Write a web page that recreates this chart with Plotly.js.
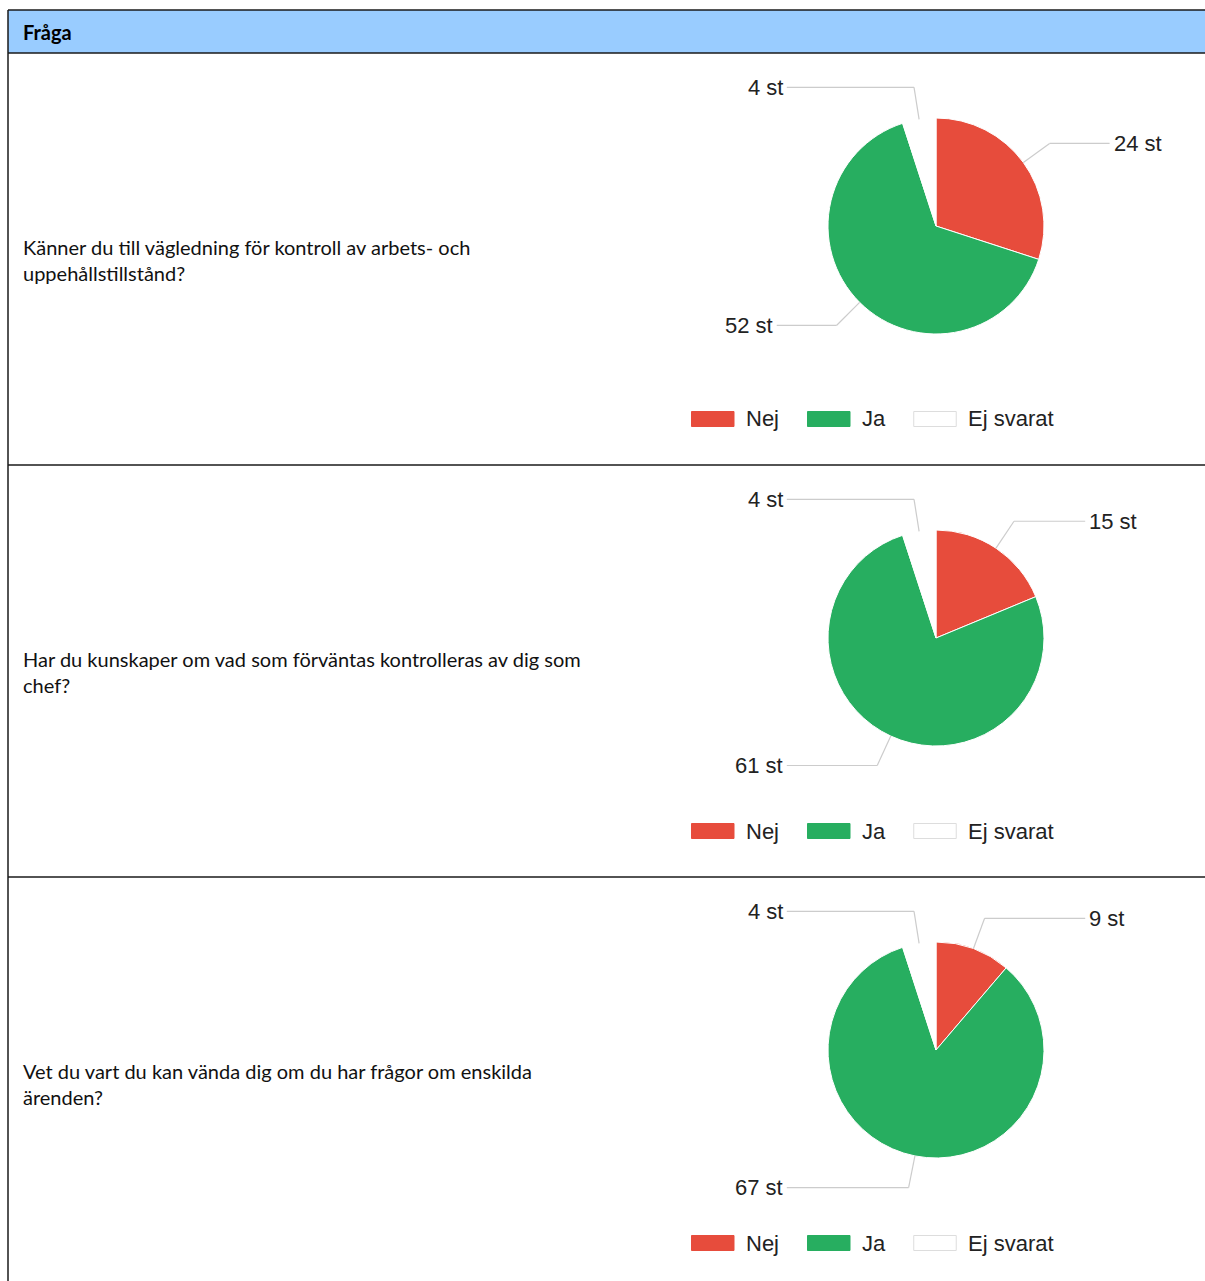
<!DOCTYPE html>
<html><head><meta charset="utf-8">
<script src="https://cdn.plot.ly/plotly-3.0.1.min.js"></script>
<style>html,body{margin:0;padding:0;background:#fff;} #chart{width:1205px;height:1281px;}</style>
</head><body><div id="chart"></div>
<script>
// ---- data ----
const categories = ['Nej', 'Ja', 'Ej svarat'];
const questions = [
  'Känner du till vägledning för kontroll av arbets- och\nuppehållstillstånd?',
  'Har du kunskaper om vad som förväntas kontrolleras av dig som\nchef?',
  'Vet du vart du kan vända dig om du har frågor om enskilda\närenden?'
];
const nejValues = [24, 15, 9];
const jaValues = [52, 61, 67];
const ejSvaratValues = [4, 4, 4];
const unitSuffix = ' st';
const headerLabel = 'Fråga';

// ---- styles / layout ----
const colors = ['#E74C3C', '#27AE60', '#FFFFFF'];
const legendBorder = ['#E74C3C', '#27AE60', '#DDDDDD'];
const W = 1205, H = 1281;
const tableLeft = 8, tableTop = 10, headerBottom = 53, rowH = 412;
const pieCX = 936, pieDY = 173, R = 108;
const borderColor = '#1a1a1a';
const labelFont = {family: 'Liberation Sans, Arial, sans-serif', size: 22, color: '#222222'};
const qFont = {family: 'Lato, sans-serif', size: 20, color: '#111111'};

const px = x => x / W;
const py = y => 1 - y / H;

const ctx = document.createElement('canvas').getContext('2d');
function textW(t, f) { ctx.font = f.size + 'px ' + f.family; return ctx.measureText(t).width; }

const traces = [], shapes = [], annotations = [];

// table frame
shapes.push({type: 'rect', xref: 'paper', yref: 'paper', x0: px(tableLeft), x1: px(W + 5), y0: py(headerBottom), y1: py(tableTop),
  fillcolor: '#99CCFF', line: {width: 0}, layer: 'below'});
const hLines = [tableTop, headerBottom, headerBottom + rowH, headerBottom + 2 * rowH];
hLines.forEach(y => shapes.push({type: 'line', xref: 'paper', yref: 'paper', x0: px(tableLeft), x1: px(W + 5), y0: py(y), y1: py(y), line: {color: borderColor, width: 1.5}}));
shapes.push({type: 'line', xref: 'paper', yref: 'paper', x0: px(tableLeft), x1: px(tableLeft), y0: py(tableTop), y1: py(H + 5), line: {color: borderColor, width: 1.5}});

annotations.push({xref: 'paper', yref: 'paper', x: px(21), y: py(32), xanchor: 'left', yanchor: 'middle', showarrow: false,
  text: '<b>' + headerLabel + '</b>', font: {family: qFont.family, size: 20, color: '#000'}});

questions.forEach((q, i) => {
  const top = headerBottom + i * rowH;
  const cy = top + pieDY;
  const vals = [nejValues[i], jaValues[i], ejSvaratValues[i]];
  const total = vals.reduce((a, b) => a + b, 0);

  // question text
  q.split('\n').forEach((line, k) => {
    annotations.push({xref: 'paper', yref: 'paper', x: px(21), y: py(top + 194 + k * 26), xanchor: 'left', yanchor: 'middle',
      showarrow: false, text: line, font: qFont});
  });

  traces.push({
    type: 'pie', values: vals, labels: categories, sort: false, direction: 'clockwise', rotation: 0,
    marker: {colors: colors, line: {color: '#FFFFFF', width: 1}},
    textinfo: 'none', hoverinfo: 'label+value', showlegend: false,
    domain: {x: [px(pieCX - R), px(pieCX + R)], y: [py(cy + R), py(cy - R)]}
  });

  // leader lines + labels
  let cum = 0;
  vals.forEach((v, k) => {
    const mid = (cum + v / 2) / total * 2 * Math.PI;
    cum += v;
    const s = Math.sin(mid), c = Math.cos(mid);
    const ex = pieCX + R * s, ey = cy - R * c;
    const bx = pieCX + 1.3 * R * s, by = cy - 1.3 * R * c;
    const right = s >= 0;
    const lx = right ? Math.max(pieCX + 1.4 * R, bx + 62) : Math.min(pieCX - 1.4 * R, bx - 62);
    const lineCol = '#CCCCCC';
    shapes.push({type: 'line', xref: 'paper', yref: 'paper', x0: px(ex), y0: py(ey), x1: px(bx), y1: py(by), line: {color: lineCol, width: 1.2}});
    shapes.push({type: 'line', xref: 'paper', yref: 'paper', x0: px(bx), y0: py(by), x1: px(lx + (right ? -2 : 2)), y1: py(by), line: {color: lineCol, width: 1.2}});
    annotations.push({xref: 'paper', yref: 'paper', x: px(lx), y: py(by), xanchor: right ? 'left' : 'right', yanchor: 'middle',
      showarrow: false, text: v + unitSuffix, font: labelFont});
  });

  // legend
  let x = pieCX - 245;
  const ly = top + 366;
  categories.forEach((cat, k) => {
    shapes.push({type: 'rect', xref: 'paper', yref: 'paper', x0: px(x + 0.5), x1: px(x + 43), y0: py(ly + 7.5), y1: py(ly - 7.5),
      fillcolor: colors[k], line: {color: legendBorder[k], width: 1}});
    annotations.push({xref: 'paper', yref: 'paper', x: px(x + 53), y: py(ly), xanchor: 'left', yanchor: 'middle',
      showarrow: false, text: cat, font: labelFont});
    x += 53 + textW(cat, labelFont) + 30;
  });
});

const layout = {
  width: W, height: H, margin: {l: 0, r: 0, t: 0, b: 0},
  paper_bgcolor: '#FFFFFF', plot_bgcolor: '#FFFFFF',
  shapes: shapes, annotations: annotations, showlegend: false
};
Plotly.newPlot('chart', traces, layout, {displayModeBar: false, staticPlot: true});
</script>
</body></html>
